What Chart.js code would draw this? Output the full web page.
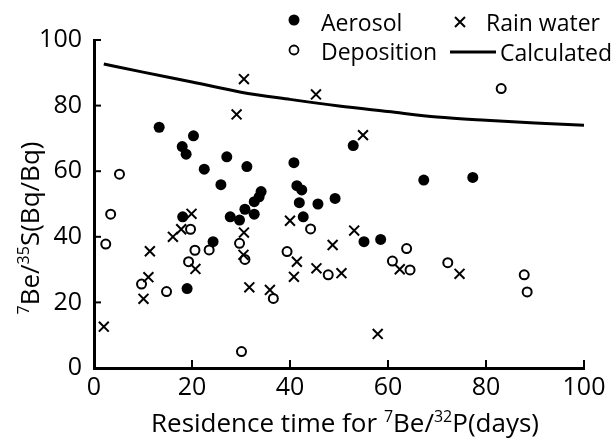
<!DOCTYPE html>
<html><head><meta charset="utf-8">
<script src="https://cdn.jsdelivr.net/npm/chart.js@4/dist/chart.umd.min.js"></script>
<style>html,body{margin:0;padding:0;background:#fff;}canvas{display:block;}</style>
</head><body>
<canvas id="c" width="615" height="440"></canvas>
<script>
// ---- data ----
const aerosolX = [13.3,20.3,18.0,18.8,27.1,22.5,31.2,40.8,25.9,41.4,42.4,34.1,33.7,32.7,30.8,32.7,27.8,29.7,41.9,45.7,49.2,42.7,18.1,24.3,19.0,55.1,58.5,52.9,67.3,77.3];
const aerosolY = [73.4,70.8,67.5,65.2,64.4,60.6,61.4,62.6,55.9,55.6,54.3,53.8,52.2,50.7,48.4,46.9,46.1,45.1,50.4,50.0,51.7,46.1,46.1,38.5,24.2,38.5,39.2,67.8,57.3,58.1];
const rainX = [30.6,45.3,29.1,54.9,19.9,17.8,16.1,11.4,11.1,10.1,2.0,20.7,30.6,30.5,31.7,35.9,40.0,41.4,40.8,45.4,48.7,50.5,53.1,62.4,74.6,57.9];
const rainY = [88.1,83.4,77.3,71.0,47.0,42.3,40.0,35.6,27.7,21.1,12.6,30.2,41.3,34.5,24.6,23.8,44.9,32.4,27.8,30.4,37.5,28.9,41.9,30.1,28.7,10.4];
const depositionX = [5.2,83.1,3.4,2.4,9.7,14.8,19.7,20.6,19.3,23.5,29.7,30.8,36.6,30.1,39.4,44.2,47.8,63.8,60.9,64.5,72.2,87.8,88.4];
const depositionY = [59.1,85.2,46.9,37.8,25.6,23.3,42.3,35.9,32.4,36.0,38.0,33.1,21.2,5.0,35.5,42.4,28.4,36.4,32.6,29.9,32.1,28.4,23.2];
const calcX = [2,10,20,30,40,50,60,70,80,90,100];
const calcY = [92.7,90.2,87.2,84.1,81.9,79.9,78.2,76.5,75.5,74.7,74.0];
const xTicks = [0,20,40,60,80,100];
const yTicks = [0,20,40,60,80,100];
const seriesNames = ['Aerosol','Rain water','Deposition','Calculated'];

const FAM = "'Open Sans', 'DejaVu Sans', sans-serif";
const pts = (xs, ys) => xs.map((x, i) => ({x, y: ys[i]}));

function drawRich(ctx, segs, cx, cy, rot, size, supSize, rise) {
  ctx.save();
  ctx.translate(cx, cy);
  ctx.rotate(rot);
  ctx.textBaseline = 'alphabetic';
  ctx.textAlign = 'left';
  let total = 0;
  const w = segs.map(s => { ctx.font = (s.sup ? supSize : size) + 'px ' + FAM; const m = ctx.measureText(s.t).width; total += m; return m; });
  let x = -total / 2;
  const base = size * 0.36;
  segs.forEach((s, i) => {
    ctx.font = (s.sup ? supSize : size) + 'px ' + FAM;
    ctx.fillText(s.t, x, s.sup ? base - rise : base);
    x += w[i];
  });
  ctx.restore();
}

const decor = {
  id: 'decor',
  afterDraw(chart) {
    const ctx = chart.ctx, xs = chart.scales.x, ys = chart.scales.y;
    ctx.save();
    ctx.strokeStyle = '#000'; ctx.fillStyle = '#000'; ctx.lineWidth = 2;
    xTicks.forEach(v => { const p = xs.getPixelForValue(v); ctx.beginPath(); ctx.moveTo(p, ys.bottom); ctx.lineTo(p, ys.bottom - 8); ctx.stroke(); });
    yTicks.forEach(v => { const p = ys.getPixelForValue(v); ctx.beginPath(); ctx.moveTo(xs.left, p); ctx.lineTo(xs.left + 7, p); ctx.stroke(); });
    // axis titles
    drawRich(ctx, [{t:'Residence time for '},{t:'7',sup:1},{t:'Be/'},{t:'32',sup:1},{t:'P(days)'}], 345, 423, 0, 26, 16, 10);
    drawRich(ctx, [{t:'7',sup:1},{t:'Be/'},{t:'35',sup:1},{t:'S(Bq/Bq)'}], 30, 228, -Math.PI/2, 26, 16, 10);
    // legend
    ctx.font = '23px ' + FAM;
    ctx.textBaseline = 'alphabetic'; ctx.textAlign = 'left';
    ctx.beginPath(); ctx.arc(294, 20, 5.5, 0, Math.PI*2); ctx.fill();
    ctx.fillText(seriesNames[0], 321, 31);
    ctx.lineWidth = 2;
    ctx.beginPath(); ctx.moveTo(455, 17); ctx.lineTo(465, 27); ctx.moveTo(465, 17); ctx.lineTo(455, 27); ctx.stroke();
    ctx.fillText(seriesNames[1], 486, 31);
    ctx.lineWidth = 1.8;
    ctx.beginPath(); ctx.arc(294, 50, 4.5, 0, Math.PI*2); ctx.stroke();
    ctx.fillText(seriesNames[2], 321, 60);
    ctx.lineWidth = 3;
    ctx.beginPath(); ctx.moveTo(450, 52); ctx.lineTo(496, 52); ctx.stroke();
    ctx.fillText(seriesNames[3], 500, 61);
    ctx.restore();
  }
};

new Chart(document.getElementById('c'), {
  data: {
    datasets: [
      { type:'scatter', label: seriesNames[0], data: pts(aerosolX, aerosolY), pointStyle:'circle', pointRadius:5.5, backgroundColor:'#000', borderColor:'#000', borderWidth:0 },
      { type:'scatter', label: seriesNames[1], data: pts(rainX, rainY), pointStyle:'crossRot', pointRadius:7, borderColor:'#000', borderWidth:2 },
      { type:'scatter', label: seriesNames[2], data: pts(depositionX, depositionY), pointStyle:'circle', pointRadius:4.5, backgroundColor:'rgba(255,255,255,0)', borderColor:'#000', borderWidth:2 },
      { type:'line', label: seriesNames[3], data: pts(calcX, calcY), borderColor:'#000', borderWidth:3, pointRadius:0, cubicInterpolationMode:'monotone', fill:false }
    ]
  },
  options: {
    responsive: false,
    animation: false,
    layout: { padding: { top: 40, right: 31, left: 0, bottom: 0 } },
    plugins: { legend: { display: false }, tooltip: { enabled: false } },
    scales: {
      x: {
        type:'linear', min:0, max:100,
        afterBuildTicks(s){ s.ticks = xTicks.map(v => ({value:v})); },
        grid:{ display:true, drawOnChartArea:false, drawTicks:false },
        border:{ display:true, width:3, color:'#000' },
        ticks:{ font:{ family:FAM, size:25 }, color:'#000', padding:5, maxRotation:0, autoSkip:false },
        afterFit(s){ s.height = 72; }
      },
      y: {
        type:'linear', min:0, max:100,
        afterBuildTicks(s){ s.ticks = yTicks.map(v => ({value:v})); },
        grid:{ display:true, drawOnChartArea:false, drawTicks:false },
        border:{ display:true, width:3, color:'#000' },
        ticks:{ font:{ family:FAM, size:25 }, color:'#000', padding:12, autoSkip:false },
        afterFit(s){ s.width = 94; }
      }
    }
  },
  plugins: [decor]
});
</script>
</body></html>
